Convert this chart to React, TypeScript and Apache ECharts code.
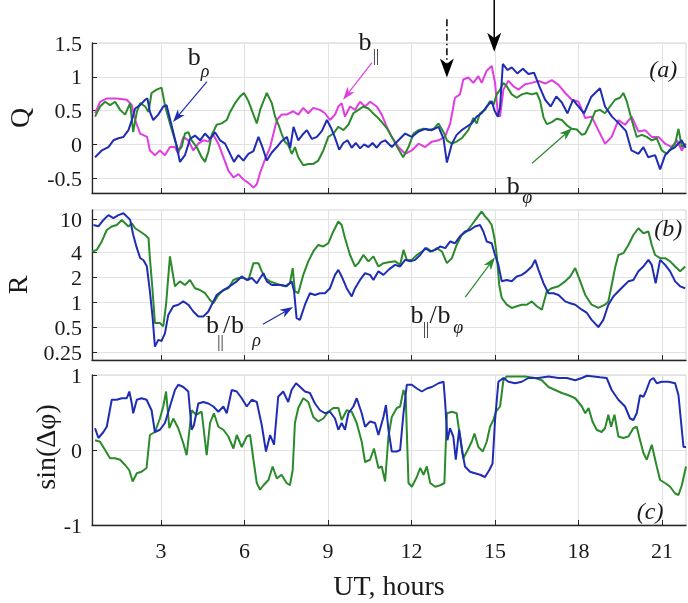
import React, { useEffect, useRef } from "react";
import * as echarts from "echarts";

// ---- tick values ----
const X_TICKS = [3, 6, 9, 12, 15, 18, 21];
const Q_TICKS = [-0.5, 0, 0.5, 1, 1.5];
const R_TICKS = [0.25, 0.5, 1, 2, 4, 10];

// ---- panel (a): Q ----
const qRho: number[][] = [
  [0.63, -0.19], [0.87, -0.09], [1.11, -0.04], [1.29, 0.06], [1.47, 0.09], [1.65, 0.11], [1.83, 0.21], [1.95, 0.36],
  [2.07, 0.53], [2.25, 0.58], [2.43, 0.66], [2.51, 0.68], [2.6, 0.48], [2.72, 0.36], [2.9, 0.44], [3.08, 0.56],
  [3.2, 0.58], [3.38, 0.28], [3.54, 0.01], [3.68, -0.26], [3.86, -0.16], [4.04, 0.08], [4.22, 0.13], [4.4, 0.06],
  [4.58, 0.16], [4.76, 0.08], [4.94, 0.18], [5.12, 0.06], [5.3, 0.01], [5.48, -0.14], [5.62, -0.26], [5.78, -0.16],
  [5.96, -0.24], [6.14, -0.14], [6.32, -0.1], [6.5, 0.11], [6.65, -0.05], [6.8, -0.24], [6.98, -0.12], [7.16, -0.04],
  [7.34, 0.05], [7.52, 0.11], [7.64, -0.05], [7.76, 0.26], [7.93, 0.06], [8.1, 0.15], [8.24, 0.21], [8.42, 0.08],
  [8.6, 0.11], [8.78, 0.2], [8.96, 0.36], [9.1, 0.25], [9.25, 0.1], [9.4, -0.08], [9.55, 0.02], [9.7, 0.06],
  [9.85, -0.05], [10.0, 0.02], [10.15, -0.06], [10.3, 0.0], [10.45, -0.04], [10.6, 0.02], [10.75, -0.05], [10.9, 0.03],
  [11.05, 0.06], [11.29, -0.04], [11.53, 0.06], [11.77, 0.16], [12.01, 0.11], [12.25, 0.19], [12.49, 0.23], [12.73, 0.21],
  [12.97, 0.26], [13.15, 0.08], [13.27, -0.27], [13.45, 0.01], [13.62, 0.14], [13.8, 0.21], [13.98, 0.26], [14.16, 0.31],
  [14.34, 0.41], [14.52, 0.46], [14.7, 0.56], [14.88, 0.64], [14.98, 0.5], [15.1, 0.41], [15.18, 0.55], [15.28, 1.19],
  [15.45, 1.1], [15.6, 1.14], [15.8, 1.05], [16.0, 1.12], [16.2, 1.04], [16.4, 1.06], [16.6, 0.85], [16.8, 0.66],
  [17.0, 0.56], [17.2, 0.71], [17.4, 0.62], [17.6, 0.46], [17.8, 0.66], [18.0, 0.56], [18.2, 0.46], [18.45, 0.7],
  [18.77, 0.83], [18.95, 0.56], [19.2, 0.41], [19.45, 0.31], [19.7, 0.2], [19.9, -0.09], [20.15, -0.14], [20.33, -0.04],
  [20.5, -0.19], [20.75, -0.16], [20.93, -0.37], [21.11, -0.16], [21.3, -0.08], [21.47, -0.04], [21.7, 0.06], [21.85, -0.05],
];
const qPar: number[][] = [
  [0.63, 0.46], [0.81, 0.63], [1.05, 0.68], [1.41, 0.68], [1.77, 0.66], [1.95, 0.58], [2.07, 0.36], [2.25, 0.16],
  [2.5, 0.11], [2.6, -0.09], [2.78, -0.16], [2.96, -0.09], [3.14, -0.16], [3.32, -0.04], [3.5, -0.04], [3.62, -0.14],
  [3.8, 0.11], [3.98, 0.06], [4.16, -0.09], [4.34, 0.01], [4.52, 0.06], [4.7, 0.04], [4.88, 0.14], [5.06, 0.01],
  [5.24, -0.19], [5.42, -0.39], [5.6, -0.49], [5.78, -0.44], [5.96, -0.52], [6.14, -0.57], [6.32, -0.64], [6.44, -0.59],
  [6.56, -0.42], [6.74, -0.22], [6.92, -0.04], [7.04, 0.16], [7.16, 0.36], [7.33, 0.44], [7.51, 0.44], [7.75, 0.49],
  [7.93, 0.44], [8.11, 0.54], [8.29, 0.46], [8.47, 0.54], [8.71, 0.51], [8.89, 0.46], [9.07, 0.36], [9.25, 0.44],
  [9.37, 0.56], [9.49, 0.61], [9.61, 0.41], [9.79, 0.56], [9.97, 0.51], [10.15, 0.63], [10.33, 0.56], [10.51, 0.63],
  [10.75, 0.56], [10.93, 0.44], [11.11, 0.26], [11.29, 0.11], [11.53, -0.04], [11.77, -0.14], [12.01, -0.09], [12.25, 0.01],
  [12.49, -0.04], [12.73, 0.04], [12.97, 0.06], [13.2, 0.11], [13.39, 0.31], [13.56, 0.69], [13.74, 0.74], [13.86, 0.96],
  [14.04, 0.99], [14.22, 0.91], [14.4, 1.01], [14.52, 0.91], [14.7, 1.09], [14.88, 1.16], [15.0, 0.91], [15.1, 0.46],
  [15.18, 0.41], [15.3, 0.81], [15.48, 0.94], [15.66, 0.86], [15.84, 0.81], [16.08, 0.89], [16.32, 0.91], [16.56, 0.94],
  [16.8, 0.9], [17.04, 0.95], [17.28, 0.88], [17.52, 0.76], [17.76, 0.66], [18.0, 0.63], [18.24, 0.39], [18.47, 0.41],
  [18.71, 0.21], [18.95, 0.01], [19.19, 0.11], [19.43, 0.36], [19.67, 0.29], [19.91, 0.41], [20.15, 0.19], [20.39, 0.21],
  [20.63, 0.11], [20.87, 0.11], [21.11, 0.01], [21.35, -0.04], [21.53, 0.06], [21.71, -0.09], [21.85, 0.01],
];
const qPhi: number[][] = [
  [0.63, 0.41], [0.81, 0.56], [0.99, 0.63], [1.17, 0.58], [1.35, 0.63], [1.53, 0.51], [1.71, 0.44], [1.89, 0.61],
  [2.0, 0.18], [2.13, 0.48], [2.25, 0.61], [2.43, 0.56], [2.55, 0.48], [2.66, 0.76], [2.84, 0.81], [3.02, 0.84],
  [3.14, 0.58], [3.32, 0.31], [3.5, 0.06], [3.62, -0.09], [3.74, -0.04], [3.86, 0.16], [3.98, 0.18], [4.1, 0.06],
  [4.28, -0.04], [4.46, -0.19], [4.58, -0.26], [4.7, -0.11], [4.82, 0.14], [5.0, 0.29], [5.18, 0.31], [5.36, 0.36],
  [5.48, 0.48], [5.66, 0.61], [5.84, 0.71], [5.98, 0.76], [6.14, 0.64], [6.32, 0.44], [6.44, 0.31], [6.56, 0.51],
  [6.68, 0.64], [6.8, 0.76], [6.98, 0.61], [7.1, 0.41], [7.22, 0.29], [7.33, 0.16], [7.45, 0.04], [7.57, -0.01],
  [7.7, -0.14], [7.81, -0.04], [7.93, -0.19], [8.11, -0.31], [8.29, -0.29], [8.47, -0.29], [8.65, -0.24], [8.83, -0.09],
  [9.01, 0.11], [9.19, 0.16], [9.37, 0.26], [9.55, 0.21], [9.73, 0.29], [9.91, 0.46], [10.09, 0.51], [10.27, 0.56],
  [10.45, 0.53], [10.57, 0.48], [10.75, 0.41], [10.93, 0.33], [11.11, 0.24], [11.3, 0.1], [11.5, -0.05], [11.7, -0.19],
  [11.89, -0.04], [12.07, 0.16], [12.25, 0.21], [12.43, 0.23], [12.6, 0.21], [12.79, 0.23], [12.97, 0.31], [13.15, 0.18],
  [13.27, 0.06], [13.45, 0.01], [13.62, 0.04], [13.8, 0.09], [14.04, 0.21], [14.22, 0.39], [14.34, 0.31], [14.46, 0.46],
  [14.64, 0.51], [14.82, 0.64], [14.94, 0.58], [15.06, 0.74], [15.18, 0.81], [15.3, 0.91], [15.42, 0.86], [15.6, 0.74],
  [15.78, 0.69], [15.96, 0.74], [16.14, 0.76], [16.32, 0.74], [16.5, 0.76], [16.62, 0.64], [16.74, 0.4], [16.86, 0.3],
  [17.04, 0.33], [17.22, 0.38], [17.4, 0.36], [17.58, 0.28], [17.76, 0.23], [17.94, 0.22], [18.12, 0.14], [18.24, 0.16],
  [18.42, 0.31], [18.6, 0.49], [18.77, 0.51], [18.95, 0.46], [19.13, 0.56], [19.31, 0.66], [19.49, 0.69], [19.61, 0.76],
  [19.73, 0.64], [19.91, 0.36], [20.09, 0.11], [20.27, 0.14], [20.45, 0.11], [20.63, 0.06], [20.81, 0.09], [20.99, -0.09],
  [21.17, -0.14], [21.35, -0.04], [21.47, 0.01], [21.59, 0.23], [21.71, -0.04], [21.85, 0.01],
];

// ---- panel (b): R (plotted on a log2 scale) ----
const rParRho: number[][] = [
  [0.57, 8.5], [0.75, 8.2], [0.93, 9.8], [1.11, 11.2], [1.29, 10.3], [1.47, 11.2], [1.65, 11.8], [1.77, 10.8],
  [1.89, 9.8], [2.0, 6.5], [2.13, 4.5], [2.25, 3.4], [2.37, 3.2], [2.49, 2.7], [2.6, 1.35], [2.7, 0.64],
  [2.78, 0.29], [2.9, 0.35], [3.02, 0.34], [3.14, 0.42], [3.26, 0.7], [3.44, 0.89], [3.62, 0.93], [3.8, 1.02],
  [3.98, 0.93], [4.16, 0.77], [4.34, 0.67], [4.52, 0.67], [4.7, 0.77], [4.82, 0.93], [5.0, 1.22], [5.18, 1.35],
  [5.36, 1.47], [5.54, 1.61], [5.72, 1.78], [5.9, 2.04], [6.08, 1.85], [6.26, 1.95], [6.44, 1.69], [6.56, 1.95],
  [6.68, 2.23], [6.8, 1.78], [6.98, 1.61], [7.16, 1.61], [7.33, 1.61], [7.51, 1.55], [7.69, 1.78], [7.78, 1.35],
  [7.87, 0.64], [7.99, 0.61], [8.17, 0.93], [8.35, 1.28], [8.53, 1.22], [8.71, 1.28], [8.89, 1.28], [9.07, 1.47],
  [9.25, 2.13], [9.37, 2.45], [9.49, 2.04], [9.67, 1.47], [9.85, 1.17], [9.97, 1.47], [10.15, 1.85], [10.33, 2.23],
  [10.51, 2.13], [10.63, 1.85], [10.81, 2.35], [10.99, 2.13], [11.2, 2.5], [11.41, 2.81], [11.59, 2.69], [11.77, 3.23],
  [11.95, 3.1], [12.13, 3.23], [12.31, 3.7], [12.49, 4.47], [12.67, 4.08], [12.85, 4.26], [13.03, 4.69], [13.21, 4.47],
  [13.39, 5.39], [13.56, 5.13], [13.74, 6.19], [13.92, 7.11], [14.1, 7.41], [14.28, 8.17], [14.46, 8.51], [14.58, 7.11],
  [14.7, 5.39], [14.88, 5.13], [15.0, 3.7], [15.12, 2.81], [15.24, 1.78], [15.42, 1.85], [15.6, 1.78], [15.78, 2.04],
  [15.96, 2.13], [16.14, 2.35], [16.32, 2.69], [16.44, 3.23], [16.56, 2.45], [16.74, 1.69], [16.92, 1.28], [17.1, 1.28],
  [17.28, 1.22], [17.52, 1.02], [17.7, 0.97], [17.88, 0.93], [18.12, 0.81], [18.3, 0.74], [18.47, 0.61], [18.71, 0.5],
  [18.89, 0.61], [19.07, 0.93], [19.25, 1.17], [19.43, 1.35], [19.61, 1.55], [19.79, 1.78], [19.97, 1.85], [20.15, 2.35],
  [20.33, 2.69], [20.51, 3.23], [20.63, 2.81], [20.77, 1.69], [20.93, 3.23], [21.11, 2.81], [21.29, 2.35], [21.47, 1.78],
  [21.65, 1.55], [21.83, 1.47],
];
const rParPhi: number[][] = [
  [0.53, 4.08], [0.69, 4.26], [0.87, 5.39], [1.05, 7.41], [1.23, 8.17], [1.41, 8.51], [1.59, 9.78], [1.71, 8.94],
  [1.83, 8.17], [1.95, 8.94], [2.07, 7.78], [2.25, 7.11], [2.43, 6.45], [2.55, 5.9], [2.6, 3.39], [2.69, 1.47],
  [2.78, 0.56], [2.96, 0.56], [3.08, 0.51], [3.18, 0.93], [3.32, 3.56], [3.5, 1.55], [3.68, 1.78], [3.86, 1.61],
  [4.04, 1.85], [4.22, 1.47], [4.4, 1.4], [4.58, 1.28], [4.76, 1.06], [4.88, 0.97], [5.06, 1.22], [5.24, 1.4],
  [5.42, 1.47], [5.6, 1.85], [5.78, 1.95], [5.96, 1.95], [6.14, 1.85], [6.32, 2.95], [6.5, 2.95], [6.62, 2.35],
  [6.74, 1.95], [6.92, 1.78], [7.1, 1.69], [7.28, 1.61], [7.45, 1.55], [7.63, 1.69], [7.73, 2.57], [7.81, 1.35],
  [7.93, 1.28], [8.11, 2.13], [8.29, 3.1], [8.47, 4.08], [8.65, 4.89], [8.83, 4.69], [9.01, 5.13], [9.19, 7.11],
  [9.37, 9.38], [9.49, 8.51], [9.61, 5.9], [9.79, 3.7], [9.97, 2.69], [10.09, 2.95], [10.27, 3.7], [10.45, 3.1],
  [10.63, 3.56], [10.81, 2.69], [10.99, 2.95], [11.17, 3.03], [11.41, 3.1], [11.59, 2.81], [11.71, 4.26], [11.83, 3.23],
  [12.01, 3.23], [12.19, 3.7], [12.37, 4.08], [12.55, 4.47], [12.73, 4.08], [12.91, 4.47], [13.09, 4.08], [13.27, 2.95],
  [13.45, 3.39], [13.62, 4.89], [13.8, 6.45], [13.98, 7.11], [14.16, 8.51], [14.34, 10.3], [14.52, 12.4], [14.64, 10.8],
  [14.76, 9.78], [14.88, 8.51], [14.98, 5.9], [15.06, 3.7], [15.15, 1.61], [15.24, 1.12], [15.42, 0.93], [15.6, 0.85],
  [15.78, 0.89], [15.96, 0.93], [16.14, 0.93], [16.32, 1.02], [16.5, 0.89], [16.68, 0.81], [16.86, 1.35], [17.04, 1.47],
  [17.28, 1.55], [17.52, 1.78], [17.7, 2.04], [17.88, 2.57], [18.06, 1.78], [18.24, 1.22], [18.47, 0.93], [18.71, 0.85],
  [18.95, 0.93], [19.07, 1.02], [19.19, 1.61], [19.31, 2.57], [19.43, 3.7], [19.61, 3.89], [19.79, 4.89], [19.97, 6.45],
  [20.15, 7.78], [20.33, 6.77], [20.51, 7.11], [20.63, 4.89], [20.75, 3.7], [20.93, 3.39], [21.11, 3.39], [21.29, 3.1],
  [21.47, 2.69], [21.65, 2.35], [21.83, 2.69],
];

// ---- panel (c): sin(Δφ) ----
const sinBlue: number[][] = [
  [0.63, 0.29], [0.75, 0.16], [0.93, 0.24], [1.05, 0.31], [1.23, 0.67], [1.41, 0.67], [1.59, 0.69], [1.77, 0.69],
  [1.86, 0.78], [1.95, 0.62], [2.0, 0.49], [2.13, 0.67], [2.3, 0.69], [2.48, 0.67], [2.66, 0.53], [2.78, 0.24],
  [2.96, 0.27], [3.14, 0.36], [3.32, 0.58], [3.5, 0.8], [3.62, 0.87], [3.8, 0.84], [3.98, 0.78], [4.1, 0.27],
  [4.18, 0.33], [4.34, 0.62], [4.52, 0.64], [4.7, 0.62], [4.88, 0.58], [5.06, 0.51], [5.24, 0.58], [5.36, 0.49],
  [5.54, 0.8], [5.72, 0.78], [5.9, 0.69], [6.08, 0.58], [6.26, 0.67], [6.44, 0.64], [6.62, 0.33], [6.77, -0.02],
  [6.92, 0.2], [7.06, 0.07], [7.21, 0.71], [7.39, 0.78], [7.57, 0.64], [7.69, 0.8], [7.85, 0.89], [8.0, 0.84],
  [8.17, 0.78], [8.35, 0.76], [8.53, 0.62], [8.71, 0.53], [8.89, 0.49], [9.07, 0.51], [9.25, 0.42], [9.37, 0.27],
  [9.49, 0.36], [9.61, 0.27], [9.73, 0.49], [9.91, 0.58], [10.03, 0.69], [10.21, 0.49], [10.33, 0.31], [10.51, 0.38],
  [10.69, 0.36], [10.81, 0.2], [10.99, 0.44], [11.08, 0.6], [11.17, 0.27], [11.29, -0.02], [11.47, -0.02], [11.59, 0.0],
  [11.71, 0.49], [11.83, 0.87], [12.01, 0.87], [12.19, 0.82], [12.37, 0.78], [12.55, 0.82], [12.73, 0.84], [12.97, 0.89],
  [13.15, 0.91], [13.21, 0.62], [13.29, 0.13], [13.38, 0.29], [13.5, 0.18], [13.59, -0.13], [13.71, 0.27], [13.83, -0.04],
  [13.92, -0.22], [14.1, -0.29], [14.28, -0.31], [14.46, -0.33], [14.64, -0.36], [14.79, -0.27], [14.91, -0.18], [15.0, 0.4],
  [15.12, 0.91], [15.3, 0.96], [15.48, 0.91], [15.72, 0.89], [15.96, 0.91], [16.2, 0.96], [16.56, 0.96], [16.92, 0.98],
  [17.28, 0.96], [17.58, 0.96], [17.88, 0.93], [18.12, 0.96], [18.3, 0.99], [18.54, 0.98], [18.77, 0.97], [19.01, 0.96],
  [19.19, 0.8], [19.43, 0.67], [19.67, 0.58], [19.85, 0.42], [19.97, 0.4], [20.09, 0.49], [20.21, 0.73], [20.33, 0.71],
  [20.42, 0.78], [20.57, 0.93], [20.69, 0.96], [20.81, 0.89], [20.99, 0.91], [21.23, 0.91], [21.47, 0.89], [21.59, 0.73],
  [21.71, 0.27], [21.77, 0.04], [21.86, 0.04],
];
const sinGreen: number[][] = [
  [0.63, 0.13], [0.81, 0.11], [0.99, 0.0], [1.17, -0.11], [1.35, -0.11], [1.53, -0.13], [1.71, -0.2], [1.86, -0.27],
  [1.98, -0.42], [2.13, -0.31], [2.3, -0.29], [2.48, -0.24], [2.6, 0.2], [2.78, 0.24], [2.96, 0.42], [3.08, 0.58],
  [3.18, 0.78], [3.3, 0.29], [3.44, 0.42], [3.62, 0.29], [3.8, 0.09], [3.92, -0.07], [4.1, 0.53], [4.26, 0.47],
  [4.46, 0.51], [4.64, -0.07], [4.76, 0.36], [4.9, 0.49], [5.06, 0.31], [5.24, 0.27], [5.42, 0.18], [5.6, 0.02],
  [5.72, 0.2], [5.9, 0.04], [6.08, 0.18], [6.2, 0.2], [6.32, -0.13], [6.44, -0.44], [6.56, -0.53], [6.68, -0.47],
  [6.86, -0.4], [7.01, -0.22], [7.16, -0.38], [7.33, -0.33], [7.51, -0.44], [7.63, -0.47], [7.73, -0.27], [7.81, 0.36],
  [7.93, 0.56], [8.11, 0.69], [8.29, 0.64], [8.47, 0.44], [8.65, 0.38], [8.83, 0.42], [9.01, 0.51], [9.19, 0.56],
  [9.37, 0.56], [9.49, 0.4], [9.67, 0.53], [9.85, 0.51], [10.03, 0.36], [10.21, 0.11], [10.33, -0.16], [10.51, -0.13],
  [10.65, 0.02], [10.81, -0.24], [10.93, -0.22], [11.05, -0.42], [11.17, 0.18], [11.29, 0.44], [11.47, 0.56], [11.59, 0.58],
  [11.71, 0.8], [11.79, 0.71], [11.89, -0.44], [12.01, -0.49], [12.19, -0.36], [12.31, -0.24], [12.43, -0.33], [12.55, -0.22],
  [12.67, -0.44], [12.85, -0.49], [13.03, -0.47], [13.18, -0.44], [13.27, 0.49], [13.45, 0.51], [13.62, 0.49], [13.74, 0.18],
  [13.86, -0.11], [14.02, 0.0], [14.16, 0.11], [14.26, 0.22], [14.4, 0.04], [14.56, -0.02], [14.7, 0.11], [14.82, 0.31],
  [14.94, 0.4], [15.03, 0.51], [15.18, 0.58], [15.3, 0.93], [15.42, 0.98], [15.72, 0.98], [16.08, 0.98], [16.44, 0.96],
  [16.68, 0.93], [16.92, 0.84], [17.16, 0.8], [17.4, 0.76], [17.64, 0.73], [17.88, 0.69], [18.12, 0.58], [18.24, 0.49],
  [18.36, 0.56], [18.5, 0.38], [18.65, 0.27], [18.83, 0.24], [18.95, 0.29], [19.07, 0.47], [19.17, 0.31], [19.29, 0.47],
  [19.43, 0.18], [19.61, 0.16], [19.79, 0.18], [19.97, 0.29], [20.09, 0.31], [20.21, 0.13], [20.33, -0.04], [20.45, -0.13],
  [20.63, 0.07], [20.81, -0.22], [20.93, -0.4], [21.11, -0.44], [21.29, -0.49], [21.47, -0.58], [21.59, -0.6], [21.71, -0.47],
  [21.86, -0.22],
];

// ---- annotations (anchored in data coordinates) ----
const BLUE = "#1f2db3";
const GREEN = "#2b8a2b";
const MAGENTA = "#e03ee0";
const INK = "#1a1a1a";
const FONT = '"Liberation Serif", "Times New Roman", serif';

type Part = [string, number, number, number, boolean];
const LABELS: { grid: number; at: number[]; parts: Part[] }[] = [
  { grid: 0, at: [4.19, 1.3], parts: [["b", 0, 0, 26, false], ["ρ", 11, 14, 18, true]] },
  { grid: 0, at: [10.33, 1.52], parts: [["b", 0, 0, 26, false], ["||", 11, 14, 16, false]] },
  { grid: 0, at: [15.65, -0.61], parts: [["b", 0, 0, 26, false], ["φ", 14, 11, 18, true]] },
  { grid: 1, at: [4.85, 0.543], parts: [["b", 0, 0, 26, false], ["||", 8, 17, 16, false], ["/", 14, 0, 26, false], ["b", 25, 0, 26, false], ["ρ", 44, 16, 18, true]] },
  { grid: 1, at: [12.2, 0.7], parts: [["b", 0, 0, 26, false], ["||", 9, 14, 16, false], ["/", 16, 0, 26, false], ["b", 27, 0, 26, false], ["φ", 41, 12, 18, true]] },
  { grid: 0, at: [21.04, 1.12], parts: [["(a)", 0, 0, 24, true]] },
  { grid: 1, at: [21.22, 7.8], parts: [["(b)", 0, 0, 24, true]] },
  { grid: 2, at: [20.57, -0.81], parts: [["(c)", 0, 0, 24, true]] },
];

const ARROWS: { grid: number; from: number[]; to: number[]; color: string; w: number; head: number[]; dash?: boolean }[] = [
  { grid: 0, from: [4.65, 0.93], to: [3.43, 0.33], color: BLUE, w: 1.2, head: [13, 9] },
  { grid: 0, from: [10.58, 1.21], to: [9.54, 0.66], color: MAGENTA, w: 1.2, head: [13, 9] },
  { grid: 0, from: [16.33, -0.28], to: [17.77, 0.24], color: GREEN, w: 1.2, head: [13, 9] },
  { grid: 0, from: [13.27, 1.85], to: [13.27, 0.99], color: "#000", w: 1.5, head: [19, 14], dash: true },
  { grid: 0, from: [14.97, 2.15], to: [14.97, 1.37], color: "#000", w: 1.5, head: [19, 14] },
  { grid: 1, from: [6.66, 0.54], to: [7.74, 0.87], color: BLUE, w: 1.2, head: [13, 9] },
  { grid: 1, from: [13.93, 1.15], to: [15.0, 3.48], color: GREEN, w: 1.2, head: [13, 9] },
];

const GRID_TOPS = [43, 210, 375];
const GRID_LEFT = 92;

export default function App() {
  const ref = useRef<HTMLDivElement>(null);

  useEffect(() => {
    const chart = echarts.init(ref.current!, null, { renderer: "svg" });
    const labelStyle = { fontFamily: FONT, fontSize: 22, color: INK };
    const axisLine = { show: true, onZero: false, lineStyle: { color: "#262626", width: 1.3 } };
    const tick = { show: true, inside: true, length: 5, lineStyle: { color: "#262626" } };
    const split = { show: true, lineStyle: { color: "#e2e2e2", width: 1 } };

    const grids = GRID_TOPS.map((top) => ({
      left: GRID_LEFT, right: 2, top, height: 150, show: true, borderColor: "#d4d4d4", borderWidth: 1,
      containLabel: false, outerBoundsMode: "none",
    }));

    const xAxes = [0, 1, 2].map((i) => ({
      gridIndex: i, type: "value", min: 0.52, max: 21.86,
      axisLine, axisTick: { ...tick, customValues: X_TICKS }, splitLine: split,
      axisLabel: { show: i === 2, customValues: X_TICKS, margin: 14, ...labelStyle },
      name: i === 2 ? "UT, hours" : "", nameLocation: "middle", nameGap: 46, nameMoveOverlap: false,
      nameTextStyle: { fontFamily: FONT, fontSize: 28, color: INK },
    }));

    const nameStyle = { fontFamily: FONT, fontSize: 28, color: INK };
    const log2Ticks = R_TICKS.map((r) => Math.log2(r));
    const yAxes = [
      {
        gridIndex: 0, type: "value", min: -0.72, max: 1.5, axisLine,
        axisTick: { ...tick, customValues: Q_TICKS }, splitLine: split,
        axisLabel: { customValues: Q_TICKS, margin: 10, ...labelStyle, formatter: (v: number) => String(v) },
        name: "Q", nameLocation: "middle", nameGap: 59, nameMoveOverlap: false, nameTextStyle: nameStyle,
      },
      {
        gridIndex: 1, type: "value", min: -2.32, max: 3.69, axisLine,
        axisTick: { ...tick, customValues: log2Ticks }, splitLine: split,
        axisLabel: {
          customValues: log2Ticks, margin: 10, ...labelStyle,
          formatter: (v: number) => {
            let best = R_TICKS[0];
            for (const r of R_TICKS) if (Math.abs(Math.log2(r) - v) < Math.abs(Math.log2(best) - v)) best = r;
            return String(best);
          },
        },
        name: "R", nameLocation: "middle", nameGap: 61, nameMoveOverlap: false, nameTextStyle: nameStyle,
      },
      {
        gridIndex: 2, type: "value", min: -1, max: 1, interval: 1, axisLine,
        axisTick: tick, splitLine: split,
        axisLabel: { margin: 10, ...labelStyle },
      },
    ];

    const line = (data: number[][], idx: number, color: string, name: string) => ({
      type: "line", name, xAxisIndex: idx, yAxisIndex: idx, data, showSymbol: false, symbol: "none",
      lineStyle: { color, width: 2 }, itemStyle: { color }, silent: true,
    });
    const toLog = (d: number[][]) => d.map(([t, r]) => [t, Math.log2(r)]);

    chart.setOption({
      animation: false,
      grid: grids,
      xAxis: xAxes,
      yAxis: yAxes,
      series: [
        line(qPar, 0, MAGENTA, "b∥"),
        line(qPhi, 0, GREEN, "bφ"),
        line(qRho, 0, BLUE, "bρ"),
        line(toLog(rParPhi), 1, GREEN, "b∥/bφ"),
        line(toLog(rParRho), 1, BLUE, "b∥/bρ"),
        line(sinGreen, 2, GREEN, "sin green"),
        line(sinBlue, 2, BLUE, "sin blue"),
      ],
    });

    const toPx = (grid: number, p: number[]) =>
      chart.convertToPixel({ gridIndex: grid } as any, grid === 1 ? [p[0], Math.log2(p[1])] : p) as unknown as number[];

    const g: any[] = [];
    for (const a of ARROWS) {
      const A = toPx(a.grid, a.from);
      const B = toPx(a.grid, a.to);
      const dx = B[0] - A[0], dy = B[1] - A[1];
      const L = Math.hypot(dx, dy) || 1;
      const ux = dx / L, uy = dy / L;
      const [hl, hw] = a.head;
      const bx = B[0] - ux * hl, by = B[1] - uy * hl;
      const nx = B[0] - ux * hl * 0.72, ny = B[1] - uy * hl * 0.72;
      g.push({
        type: "line", silent: true, z: 100,
        shape: { x1: A[0], y1: A[1], x2: nx, y2: ny },
        style: { stroke: a.color, lineWidth: a.w, lineDash: a.dash ? [7, 3, 1.5, 3] : null },
      });
      g.push({
        type: "polygon", silent: true, z: 100,
        shape: { points: [[B[0], B[1]], [bx - (uy * hw) / 2, by + (ux * hw) / 2], [nx, ny], [bx + (uy * hw) / 2, by - (ux * hw) / 2]] },
        style: { fill: a.color },
      });
    }
    for (const l of LABELS) {
      const P = toPx(l.grid, l.at);
      for (const [t, ox, oy, size, italic] of l.parts) {
        g.push({
          type: "text", silent: true, z: 101, x: P[0] + ox, y: P[1] + oy,
          style: {
            text: t, fontSize: size, fontFamily: FONT, fontStyle: italic ? "italic" : "normal",
            fill: INK, align: "center", verticalAlign: "middle",
          },
        });
      }
    }
    // y-axis title of panel (c), rotated, centred on the panel
    const c0 = toPx(2, [0.52, 0]);
    g.push({
      type: "text", silent: true, z: 101, x: GRID_LEFT - 47, y: c0[1] - 3, rotation: Math.PI / 2,
      style: {
        text: "sin(Δφ)", fontFamily: FONT, fontSize: 28, fill: INK, align: "center", verticalAlign: "middle",
      },
    });
    chart.setOption({ graphic: g });

    return () => chart.dispose();
  }, []);

  return <div ref={ref} style={{ position: "fixed", left: 0, top: 0, width: 688, height: 603 }} />;
}
